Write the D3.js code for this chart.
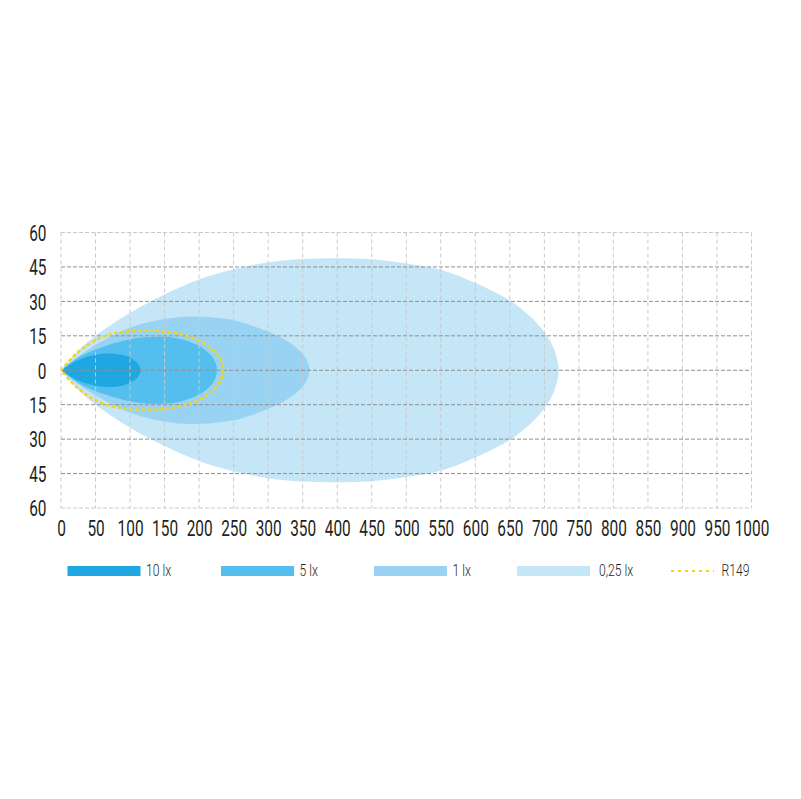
<!DOCTYPE html>
<html>
<head>
<meta charset="utf-8">
<script src="https://cdn.jsdelivr.net/npm/d3@7/dist/d3.min.js"></script>
<style>
  html, body { margin: 0; padding: 0; background: #fff; }
  svg text { font-family: Roboto, "DejaVu Sans", sans-serif; fill: #231f20; }
  .tick text { font-weight: 400; }
  .legend text { font-weight: 300; }
</style>
</head>
<body>
<div id="chart"></div>
<script>
// Isolux contours, upper half only: [distance, half-width]
var lux025 = [[0, 0], [25, 8.5], [50, 15], [100, 25], [150, 33], [200, 39.5], [250, 44], [300, 47],
  [350, 48.5], [400, 48.8], [450, 48.3], [500, 46.5], [550, 43.8], [600, 38], [650, 30.4],
  [675, 24.6], [690, 20.3], [705, 14.5], [715, 8.4], [721, 0]];
var lux1 = [[0, 0], [25, 6], [50, 11], [100, 18.5], [150, 22.3], [190, 23.4], [250, 21.8],
  [285, 18.5], [320, 14], [342, 9.5], [354, 5.5], [360, 0]];
var lux5 = [[0, 0], [25, 5.5], [50, 9], [100, 13.5], [140, 14.6], [170, 13.8], [200, 10.6],
  [215, 7.2], [222, 4.5], [226, 0]];
var lux10 = [[0, 0], [25, 4.5], [50, 6.7], [70, 7.3], [90, 6.6], [105, 4.6], [112, 2.7], [115, 0]];
var r149 = [[0, 0], [25, 8], [50, 13], [75, 15.9], [100, 16.9], [140, 17.1], [180, 15.2],
  [210, 11.1], [228, 6], [233, 3], [235, 0]];

var xTicks = d3.range(0, 1001, 50);
var yTicks = [-60, -45, -30, -15, 0, 15, 30, 45, 60];
var legendLabels = ["10 lx", "5 lx", "1 lx", "0,25 lx", "R149"];

var COLORS = { lux10: "#1ea7e1", lux5: "#54bfee", lux1: "#98d3f4", lux025: "#c5e6f7", r149: "#f3d321" };

var width = 801;
var height = 799;
var plot = { left: 61, right: 751.5, top: 232.5, bottom: 508 };
var squeeze = 0.7; // the reference uses a condensed face

var svg = d3.select("#chart")
  .append("svg")
  .attr("width", width)
  .attr("height", height);

var xScale = d3.scaleLinear().domain([0, 1000]).range([plot.left, plot.right]);
var yScale = d3.scaleLinear().domain([-60, 60]).range([plot.bottom, plot.top]);

// outline: along the top, round the tip, back along the bottom
var outline = function(pts) {
  var lower = pts.slice(0, -1).reverse().map(d => [d[0], -d[1]]);
  return pts.concat(lower);
};

var line = d3.line()
  .x(d => xScale(d[0]))
  .y(d => yScale(d[1]))
  .curve(d3.curveCatmullRom.alpha(0.5));

// Beam shapes, widest first
var shapes = [
  { data: lux025, color: COLORS.lux025 },
  { data: lux1, color: COLORS.lux1 },
  { data: lux5, color: COLORS.lux5 },
  { data: lux10, color: COLORS.lux10 }
];

svg.append("g")
  .attr("class", "shapes")
  .selectAll("path")
  .data(shapes)
  .enter()
  .append("path")
  .attr("d", d => line(outline(d.data)))
  .attr("fill", d => d.color);

// Grid
var grid = svg.append("g").attr("class", "grid");

grid.selectAll("line.v")
  .data(xTicks)
  .enter()
  .append("line")
  .attr("class", "v")
  .attr("x1", d => xScale(d))
  .attr("x2", d => xScale(d))
  .attr("y1", plot.top)
  .attr("y2", plot.bottom)
  .attr("stroke", "#c9c9c9")
  .attr("stroke-width", 1)
  .attr("stroke-dasharray", "4,3");

grid.selectAll("line.h")
  .data(yTicks)
  .enter()
  .append("line")
  .attr("class", "h")
  .attr("x1", plot.left)
  .attr("x2", plot.right)
  .attr("y1", d => yScale(d))
  .attr("y2", d => yScale(d))
  .attr("stroke", d => Math.abs(d) == 60 ? "#c9c9c9" : "#8f8f8f")
  .attr("stroke-width", 1)
  .attr("stroke-dasharray", "4,2");

// R149 dotted contour
svg.append("path")
  .attr("d", line(outline(r149)))
  .attr("fill", "none")
  .attr("stroke", COLORS.r149)
  .attr("stroke-width", 2.5)
  .attr("stroke-dasharray", "3.5,2.5");

// Axes labels
var xAxis = d3.axisBottom(xScale).tickValues(xTicks).tickSize(0).tickPadding(0)
  .tickFormat(d3.format("d"));
var gx = svg.append("g")
  .attr("transform", "translate(0," + 535.5 + ")")
  .call(xAxis);
gx.select(".domain").remove();
gx.selectAll("text")
  .attr("y", 0)
  .attr("dy", 0)
  .attr("transform", "scale(" + squeeze + ",1)")
  .attr("font-size", 22);

var yAxis = d3.axisLeft(yScale).tickValues(yTicks).tickSize(0).tickPadding(0)
  .tickFormat(d => Math.abs(d));
var gy = svg.append("g")
  .attr("transform", "translate(" + 46.5 + ",0)")
  .call(yAxis);
gy.select(".domain").remove();
gy.selectAll("text")
  .attr("x", 0)
  .attr("dy", 7.8)
  .attr("transform", "scale(" + squeeze + ",1)")
  .attr("font-size", 22);

svg.selectAll(".tick text").attr("fill", "#231f20");

// Legend
var legendX = [67.5, 221, 374, 517, 671];
var legendColors = [COLORS.lux10, COLORS.lux5, COLORS.lux1, COLORS.lux025];
var legend = svg.append("g").attr("class", "legend");

legendLabels.forEach(function(label, i) {
  var g = legend.append("g").attr("transform", "translate(" + legendX[i] + ",566)");
  var tx;
  if (i < legendColors.length) {
    g.append("rect")
      .attr("width", 73)
      .attr("height", 10)
      .attr("fill", legendColors[i]);
    tx = i == 3 ? 82 : 78.5;
  } else {
    g.append("line")
      .attr("x1", 0)
      .attr("x2", 43)
      .attr("y1", 5)
      .attr("y2", 5)
      .attr("stroke", COLORS.r149)
      .attr("stroke-width", 2)
      .attr("stroke-dasharray", "3,4");
    tx = 50.5;
  }
  g.append("text")
    .attr("transform", "translate(" + tx + ",9.8) scale(0.76,1)")
    .attr("font-size", 16)
    .text(label);
});
</script>
</body>
</html>
